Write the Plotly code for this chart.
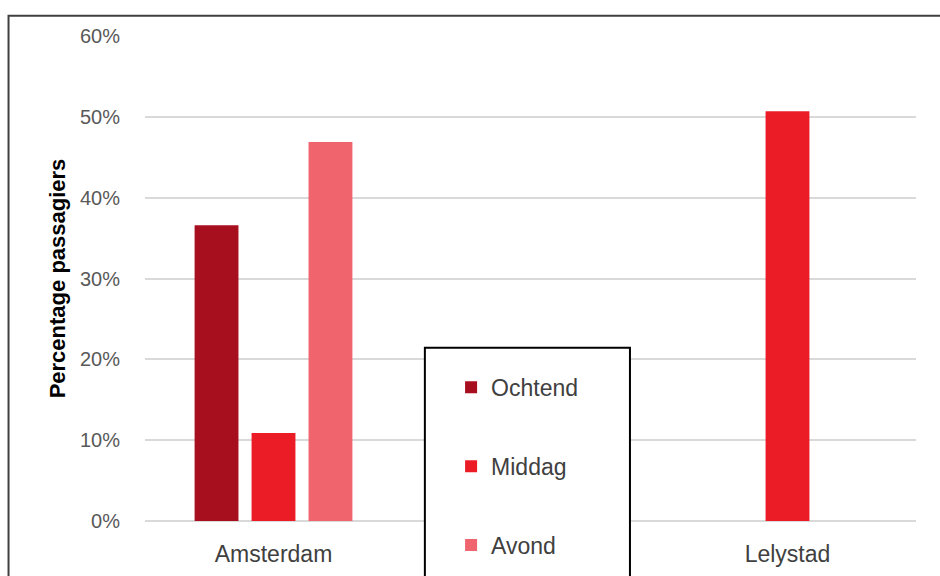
import plotly.graph_objects as go

# Airports (the middle slot stays empty, the legend sits over it)
categories = ["Amsterdam", " ", "Lelystad"]

# Share of passengers per time of day
ochtend = [0.366, None, 0]
middag = [0.109, None, 0.507]
avond = [0.469, None, 0]

series_names = ["Ochtend", "Middag", "Avond"]
series_values = [ochtend, middag, avond]
series_colors = ["#A80F1E", "#EC1C27", "#F0646E"]

y_tick_vals = [0, 0.1, 0.2, 0.3, 0.4, 0.5, 0.6]
y_tick_text = ["0%", "10%", "20%", "30%", "40%", "50%", "60%"]

fig = go.Figure()
for name, vals, color in zip(series_names, series_values, series_colors):
    fig.add_trace(go.Bar(
        x=categories, y=vals, name=name, legendgroup=name,
        marker=dict(color=color, line=dict(width=0)),
    ))

font_family = "Liberation Sans, Arial, sans-serif"

fig.update_layout(
    width=940, height=576,
    margin=dict(l=145, r=24, t=36, b=55, autoexpand=False),
    paper_bgcolor="white", plot_bgcolor="white",
    barmode="group", bargap=0.335, bargroupgap=0.23,
    font=dict(family=font_family, color="#595959"),
    xaxis=dict(
        type="category", categoryorder="array", categoryarray=categories,
        showgrid=False, showline=False, ticks="", automargin=False,
        tickfont=dict(size=23, color="#404040"),
        ticklabelstandoff=17,
    ),
    yaxis=dict(
        range=[0, 0.6], tickvals=y_tick_vals, ticktext=y_tick_text,
        showgrid=True, gridcolor="#D9D9D9", gridwidth=1.5,
        zeroline=True, zerolinecolor="#D9D9D9", zerolinewidth=1.5,
        showline=False, ticks="", automargin=False,
        tickfont=dict(size=20, color="#595959"),
        ticklabelstandoff=24,
        title=dict(text="<b>Percentage passagiers</b>", standoff=8,
                   font=dict(size=22, color="#000000", family=font_family)),
    ),
    legend=dict(
        x=0.397, y=0.320, xanchor="left", yanchor="top",
        bgcolor="rgba(0,0,0,0)", borderwidth=0,
        traceorder="grouped", tracegroupgap=46,
        font=dict(size=23, color="#404040", family=font_family),
        itemsizing="constant",
    ),
    shapes=[
        # outer chart frame
        dict(type="rect", xref="paper", yref="paper",
             x0=-0.177, x1=1.2, y0=-0.3, y1=1.042,
             line=dict(color="#404040", width=2), fillcolor="rgba(0,0,0,0)",
             layer="above"),
        # legend box
        dict(type="rect", xref="paper", yref="paper",
             x0=0.363, x1=0.629, y0=-0.3, y1=0.357,
             line=dict(color="#000000", width=2), fillcolor="white",
             layer="above"),
    ],
)

fig.write_html("out.html")
